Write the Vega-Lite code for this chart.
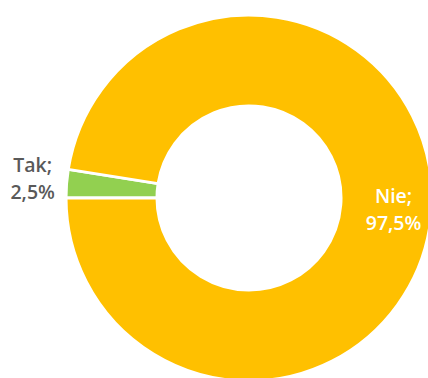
{
  "$schema": "https://vega.github.io/schema/vega-lite/v6.json",
  "width": 366,
  "height": 366,
  "padding": {"left": 66, "top": 15, "right": 0, "bottom": 0},
  "autosize": {"type": "none"},
  "background": "white",
  "view": {"stroke": null},
  "data": {"values": [
    {"cat": "Tak", "value": 2.5, "label": "Tak;\n2,5%"},
    {"cat": "Nie", "value": 97.5, "label": "Nie;\n97,5%"}
  ]},
  "encoding": {
    "theta": {"field": "value", "type": "quantitative", "stack": true, "scale": {"range": [4.712389, 10.995574]}},
    "order": {"field": "cat", "sort": "descending"}
  },
  "layer": [
    {
      "mark": {"type": "arc", "innerRadius": 92, "outerRadius": 183, "stroke": "white", "strokeWidth": 3},
      "encoding": {
        "color": {"field": "cat", "type": "nominal", "scale": {"domain": ["Tak", "Nie"], "range": ["#92D050", "#FFC000"]}, "legend": null}
      }
    },
    {
      "mark": {"type": "text", "lineBreak": "\n", "font": "Open Sans", "fontSize": 19.5, "fontWeight": 600, "lineHeight": 27, "align": "center", "baseline": "middle", "radius": 217, "dy": -15, "color": "#595959"},
      "encoding": {
        "text": {"field": "label"},
        "opacity": {"condition": {"test": "datum.cat === 'Tak'", "value": 1}, "value": 0}
      }
    },
    {
      "mark": {"type": "text", "lineBreak": "\n", "font": "Open Sans", "fontSize": 19.5, "fontWeight": 600, "lineHeight": 27, "align": "center", "baseline": "middle", "radius": 145, "dy": -12, "color": "white"},
      "encoding": {
        "text": {"field": "label"},
        "opacity": {"condition": {"test": "datum.cat === 'Nie'", "value": 1}, "value": 0}
      }
    }
  ]
}
